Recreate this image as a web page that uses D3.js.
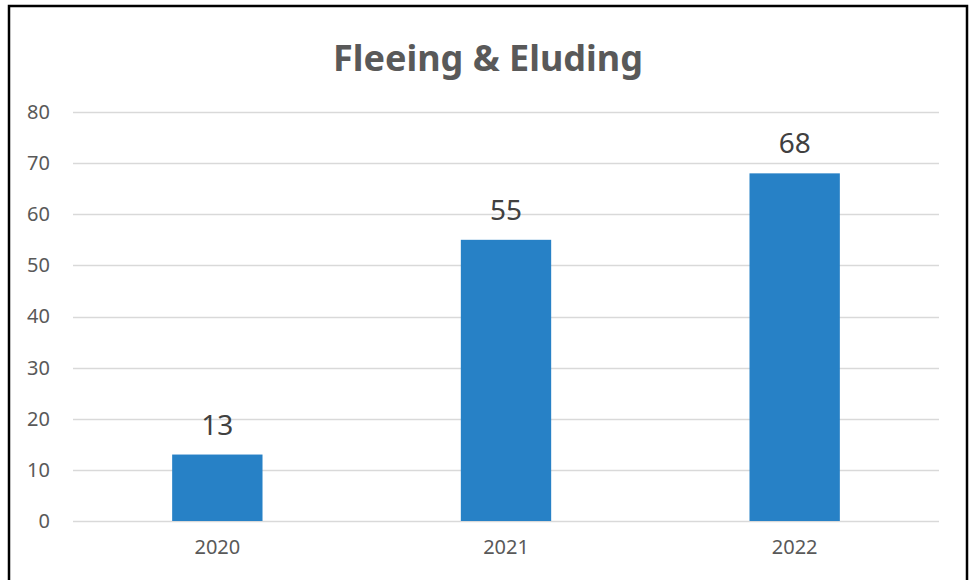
<!DOCTYPE html>
<html>
<head>
<meta charset="utf-8">
<script src="https://cdn.jsdelivr.net/npm/d3@7"></script>
<style>
  body { margin: 0; background: #fff; }
  svg { display: block; }
</style>
</head>
<body>
<script>
// chart data
let years = ['2020', '2021', '2022'];
let counts = [13, 55, 68];
let yTicks = [0, 10, 20, 30, 40, 50, 60, 70, 80];
let titleText = 'Fleeing & Eluding';

let width = 969, height = 580;
let margin = { top: 112, right: 30, bottom: 59, left: 73 };

let svg = d3.select('body').append('svg')
  .attr('width', width)
  .attr('height', height);

svg.append('rect')
  .attr('width', width).attr('height', height)
  .attr('fill', '#fff');

// outer frame (bottom edge falls outside the picture)
svg.append('rect')
  .attr('x', 9).attr('y', 6)
  .attr('width', 958).attr('height', 620)
  .attr('fill', 'none')
  .attr('stroke', '#000')
  .attr('stroke-width', 2.5);

let x = d3.scaleBand()
  .domain(years)
  .range([margin.left, width - margin.right])
  .paddingInner(0.687)
  .paddingOuter(0.3435);

let y = d3.scaleLinear()
  .domain([0, 80])
  .range([height - margin.bottom, margin.top]);

// gridlines
svg.append('g')
  .selectAll('line')
  .data(yTicks)
  .enter()
  .append('line')
  .attr('x1', margin.left)
  .attr('x2', width - margin.right)
  .attr('y1', d => Math.round(y(d)) + 0.5)
  .attr('y2', d => Math.round(y(d)) + 0.5)
  .attr('stroke', '#d9d9d9')
  .attr('stroke-width', 1.6);

// y axis labels
let yAxis = d3.axisLeft(y).tickValues(yTicks).tickSize(0).tickPadding(0);
svg.append('g')
  .attr('transform', 'translate(50,0)')
  .call(yAxis)
  .call(g => g.select('.domain').remove())
  .selectAll('text')
  .attr('fill', '#595959')
  .style('font-family', '"Noto Sans", sans-serif')
  .style('font-size', '20px');

// x axis labels
let xAxis = d3.axisBottom(x).tickSize(0).tickPadding(0);
svg.append('g')
  .attr('transform', `translate(0,${height - margin.bottom + 19})`)
  .call(xAxis)
  .call(g => g.select('.domain').remove())
  .selectAll('text')
  .attr('fill', '#595959')
  .style('font-family', '"Noto Sans", sans-serif')
  .style('font-size', '20px');

// bars
svg.append('g')
  .selectAll('rect')
  .data(counts)
  .enter()
  .append('rect')
  .attr('x', (d, i) => x(years[i]))
  .attr('y', d => y(d))
  .attr('width', x.bandwidth())
  .attr('height', d => y(0) - y(d))
  .attr('fill', '#2781c6');

// value labels
svg.append('g')
  .selectAll('text')
  .data(counts)
  .enter()
  .append('text')
  .attr('x', (d, i) => x(years[i]) + x.bandwidth() / 2)
  .attr('y', d => y(d) - 20)
  .attr('text-anchor', 'middle')
  .attr('fill', '#404040')
  .style('font-family', '"Noto Sans", sans-serif')
  .style('font-size', '28px')
  .text(d => d);

// title
svg.append('text')
  .attr('x', 488)
  .attr('y', 71)
  .attr('text-anchor', 'middle')
  .attr('fill', '#595959')
  .style('font-family', '"Noto Sans", sans-serif')
  .style('font-weight', 'bold')
  .style('font-size', '36px')
  .text(titleText);
</script>
</body>
</html>
